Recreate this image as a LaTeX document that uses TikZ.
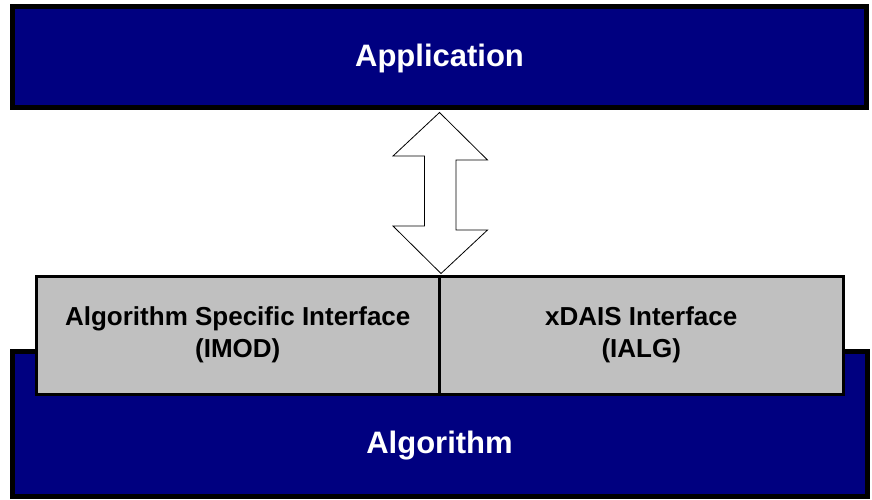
\documentclass[tikz,border=0pt]{standalone}
\usepackage{fontspec}
\setmainfont{Liberation Sans}
\usetikzlibrary{positioning}

\definecolor{navy}{HTML}{000080}
\definecolor{ifcgray}{HTML}{C0C0C0}

\tikzset{
  bar/.style={draw=black, line width=5pt, fill=navy, text=white,
    font=\fontsize{31}{37}\selectfont\bfseries, inner sep=0pt},
  ifc/.style={draw=black, line width=3pt, fill=ifcgray, text=black,
    font=\fontsize{26}{32}\selectfont\bfseries, align=center, inner sep=0pt,
    minimum width=403.5pt, minimum height=118pt},
}

\begin{document}
\begin{tikzpicture}[x=1pt,y=-1pt]
\useasboundingbox (0,0) rectangle (872,499);

% algorithm layer, interfaces on top of it
\node[bar, minimum width=855pt, minimum height=144.5pt] (alg) at (439.5,423.75) {};
\node[text=white, font=\fontsize{31}{37}\selectfont\bfseries] (algtext) at (439.5,446) {Algorithm};
\node[ifc, text depth=6pt] (imod) at (237.75,335.5) {Algorithm Specific Interface\\(IMOD)};
\node[ifc, text depth=6pt] (ialg) at (641.25,335.5) {xDAIS Interface\\(IALG)};

% application
\node[bar, minimum width=854pt, minimum height=101pt, text depth=3pt] (app) at (439.5,57) {Application};

\coordinate (apptip) at ([yshift=-2.5pt]app.south);
\coordinate (ifctip) at ([yshift=1.5pt]imod.north east);

\draw[fill=white, line width=0.8pt]
       (apptip)
  -- ++(48,47.5)
  -- ++(-31.5,0)
  -- ++(0,70)
  -- ++(31.5,0)
  -- (ifctip)
  -- ++(-48,-47.5)
  -- ++(31.5,0)
  -- ++(0,-70)
  -- ++(-31.5,0)
  -- cycle;
\end{tikzpicture}
\end{document}
